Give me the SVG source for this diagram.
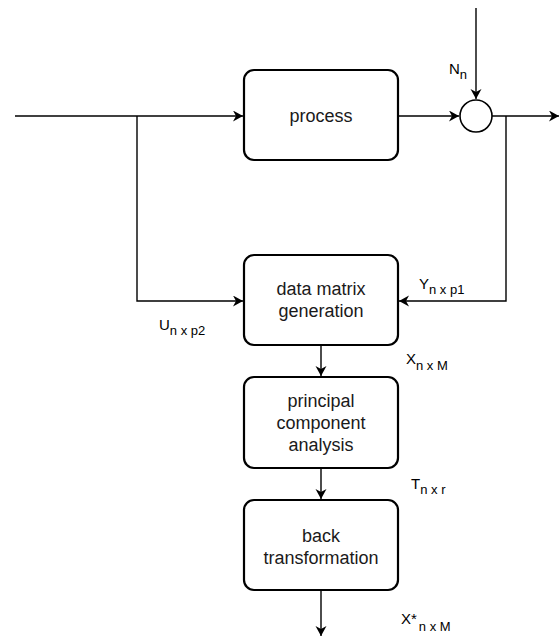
<svg xmlns="http://www.w3.org/2000/svg" width="560" height="637" viewBox="0 0 560 637">
<defs>
<marker id="arr" markerUnits="userSpaceOnUse" markerWidth="12" markerHeight="12" refX="10" refY="5.5" orient="auto">
<path d="M0,0 L10,5.5 L0,11 L3,5.5 z" fill="#000"/>
</marker>
</defs>
<style>
.box{fill:#fff;stroke:#000;stroke-width:2.2}
.t{font-family:"Liberation Sans",Arial,sans-serif;font-size:18px;fill:#1a1a1a;text-anchor:middle}
.lbl{font-family:"Liberation Sans",Arial,sans-serif;font-size:15px;fill:#000}
.sub{font-size:13px}
.c{fill:none;stroke:#000;stroke-width:1.4}
</style>
<rect width="560" height="637" fill="#fff"/>
<g id="connectors">
<path class="c" d="M15,116 H243" marker-end="url(#arr)"/>
<path class="c" d="M137,116 V301 H243" marker-end="url(#arr)"/>
<path class="c" d="M398,116 H459" marker-end="url(#arr)"/>
<path class="c" d="M476,8 V99" marker-end="url(#arr)"/>
<path class="c" d="M492,116 H559" marker-end="url(#arr)"/>
<path class="c" d="M506,116 V301 H399" marker-end="url(#arr)"/>
<path class="c" d="M321,345 V376" marker-end="url(#arr)"/>
<path class="c" d="M321,468 V499" marker-end="url(#arr)"/>
<path class="c" d="M321,590 V636" marker-end="url(#arr)"/>
</g>
<g id="process">
<rect class="box" x="244" y="70" width="154" height="90" rx="10"/>
<text class="t" x="321" y="122">process</text>
</g>
<g id="sum">
<circle cx="476" cy="116" r="16" fill="#fff" stroke="#000" stroke-width="1.6"/>
</g>
<g id="datamatrix">
<rect class="box" x="244" y="255" width="154" height="90" rx="10"/>
<text class="t" x="321" y="295">data matrix</text>
<text class="t" x="321" y="317">generation</text>
</g>
<g id="pca">
<rect class="box" x="244" y="377" width="154" height="91" rx="10"/>
<text class="t" x="321" y="407">principal</text>
<text class="t" x="321" y="429">component</text>
<text class="t" x="321" y="451">analysis</text>
</g>
<g id="back">
<rect class="box" x="244" y="500" width="154" height="90" rx="10"/>
<text class="t" x="321" y="542">back</text>
<text class="t" x="321" y="564">transformation</text>
</g>
<g id="labels">
<text class="lbl" x="449" y="74">N<tspan class="sub" dy="5">n</tspan></text>
<text class="lbl" x="159" y="330">U<tspan class="sub" dy="5">n x p2</tspan></text>
<text class="lbl" x="419" y="289">Y<tspan class="sub" dy="5">n x p1</tspan></text>
<text class="lbl" x="406" y="364">X<tspan class="sub" dy="6">n x M</tspan></text>
<text class="lbl" x="411" y="489">T<tspan class="sub" dy="5">n x r</tspan></text>
<text class="lbl" x="401" y="624">X*<tspan class="sub" dx="2" dy="7">n x M</tspan></text>
</g>
</svg>
